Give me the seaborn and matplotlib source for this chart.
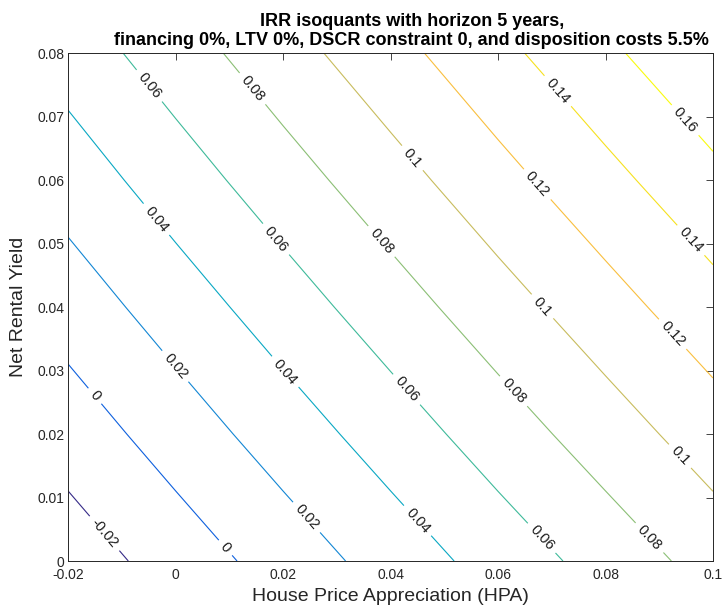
import numpy as np
import pandas as pd
import matplotlib
matplotlib.use("Agg")
import matplotlib.pyplot as plt
from matplotlib.colors import LinearSegmentedColormap
import seaborn as sns

# ---------------- data ----------------
hpa = [-0.02, 0.0, 0.02, 0.04, 0.06, 0.08, 0.10]          # x grid
net_yield = [0.0, 0.02, 0.04, 0.06, 0.08]                  # y grid
# IRR estimated at each grid point (one list per net rental yield)
irr_y000 = [-0.031, -0.0113, 0.0085, 0.0283, 0.0481, 0.0678, 0.0877]
irr_y002 = [-0.011, 0.0092, 0.0294, 0.0495, 0.0698, 0.0899, 0.1101]
irr_y004 = [0.009, 0.0296, 0.0502, 0.0708, 0.0914, 0.1119, 0.1325]
irr_y006 = [0.029, 0.0501, 0.0711, 0.0920, 0.1131, 0.1340, 0.1549]
irr_y008 = [0.049, 0.0705, 0.0919, 0.1132, 0.1347, 0.1560, 0.1773]
irr_levels = [-0.02, 0.0, 0.02, 0.04, 0.06, 0.08, 0.10, 0.12, 0.14, 0.16]

x_ticks = [-0.02, 0.0, 0.02, 0.04, 0.06, 0.08, 0.10]
x_tick_labels = ["-0.02", "0", "0.02", "0.04", "0.06", "0.08", "0.1"]
y_ticks = [0.0, 0.01, 0.02, 0.03, 0.04, 0.05, 0.06, 0.07, 0.08]
y_tick_labels = ["0", "0.01", "0.02", "0.03", "0.04", "0.05", "0.06", "0.07", "0.08"]

title_text = ("IRR isoquants with horizon 5 years,\n"
              "financing 0%, LTV 0%, DSCR constraint 0, and disposition costs 5.5%")
x_label = "House Price Appreciation (HPA)"
y_label = "Net Rental Yield"

# ---------------- layout / style ----------------
# approximate label anchor points (layout only)
label_anchor_points = [
    (-0.0052, 0.0747), (0.0141, 0.0743), (0.0709, 0.0739), (0.0946, 0.0693),
    (-0.0038, 0.0537), (0.0185, 0.0506), (0.0382, 0.0503), (0.0439, 0.0634),
    (0.0671, 0.0592), (0.0957, 0.0504), (0.0681, 0.0400), (-0.0005, 0.0304),
    (0.0202, 0.0297), (-0.0152, 0.0259), (-0.0136, 0.0041), (0.0090, 0.0019),
    (0.0241, 0.0067), (0.0923, 0.0356), (0.0428, 0.0269), (0.0628, 0.0267),
    (0.0937, 0.0164), (0.0448, 0.0062), (0.0681, 0.0036), (0.0881, 0.0036),
]

parula_rows = [
    (0.2081, 0.1663, 0.5292), (0.2081, 0.2386, 0.6771), (0.0591, 0.3598, 0.8683),
    (0.0329, 0.4430, 0.8720), (0.0779, 0.5040, 0.8384), (0.0641, 0.5570, 0.8240),
    (0.0239, 0.6287, 0.8038), (0.0384, 0.6743, 0.7436), (0.1453, 0.7098, 0.6646),
    (0.2586, 0.7317, 0.5954), (0.3953, 0.7459, 0.5244), (0.5300, 0.7491, 0.4661),
    (0.6473, 0.7456, 0.4188), (0.7525, 0.7384, 0.3768), (0.8507, 0.7299, 0.3360),
    (0.9450, 0.7261, 0.2886), (0.9990, 0.7653, 0.2164), (0.9789, 0.8271, 0.1633),
    (0.9589, 0.8949, 0.1132), (0.9661, 0.9514, 0.0755), (0.9763, 0.9831, 0.0538),
]
parula = LinearSegmentedColormap.from_list("parula", parula_rows, N=256)

sns.set_theme(style="white")
plt.rcParams["font.family"] = ["Liberation Sans", "DejaVu Sans"]
plt.rcParams["axes.unicode_minus"] = False

# ---------------- build grid from the arrays ----------------
rows = []
for yv, vals in zip(net_yield, [irr_y000, irr_y002, irr_y004, irr_y006, irr_y008]):
    for xv, zv in zip(hpa, vals):
        rows.append({"hpa": xv, "yield": yv, "irr": zv})
df = pd.DataFrame(rows)
grid = df.pivot(index="yield", columns="hpa", values="irr")
X, Y = np.meshgrid(grid.columns.values, grid.index.values)
Z = grid.values

fig = plt.figure(figsize=(7.22, 6.10), dpi=100)
ax = fig.add_axes([0.0946, 0.0803, 0.8929, 0.8323])
ax.set_facecolor("white")

cs = ax.contour(X, Y, Z, levels=irr_levels, cmap=parula,
                vmin=min(irr_levels), vmax=max(irr_levels), linewidths=0.8)
ax.set_xlim(min(hpa), max(hpa))
ax.set_ylim(min(net_yield), max(net_yield))

ax.clabel(cs, irr_levels, manual=label_anchor_points, fmt="%g", fontsize=10.5,
          inline=True, inline_spacing=6, colors="k")

ax.set_xticks(x_ticks)
ax.set_xticklabels(x_tick_labels)
ax.set_yticks(y_ticks)
ax.set_yticklabels(y_tick_labels)
ax.tick_params(direction="in", top=True, right=True, length=5, width=0.6,
               colors="#262626", labelsize=10)
ax.tick_params(axis="x", pad=5)
ax.tick_params(axis="y", pad=3)
for sp in ax.spines.values():
    sp.set_visible(True)
    sp.set_color("#262626")
    sp.set_linewidth(0.7)

ax.set_xlabel(x_label, fontsize=14, color="#262626", labelpad=4)
ax.set_ylabel(y_label, fontsize=14, color="#262626", labelpad=7)
ax.set_title(title_text, fontsize=13, fontweight="bold", color="black",
             pad=6, linespacing=1.15, x=0.533)

fig.savefig("out.png", dpi=100, facecolor="white")
